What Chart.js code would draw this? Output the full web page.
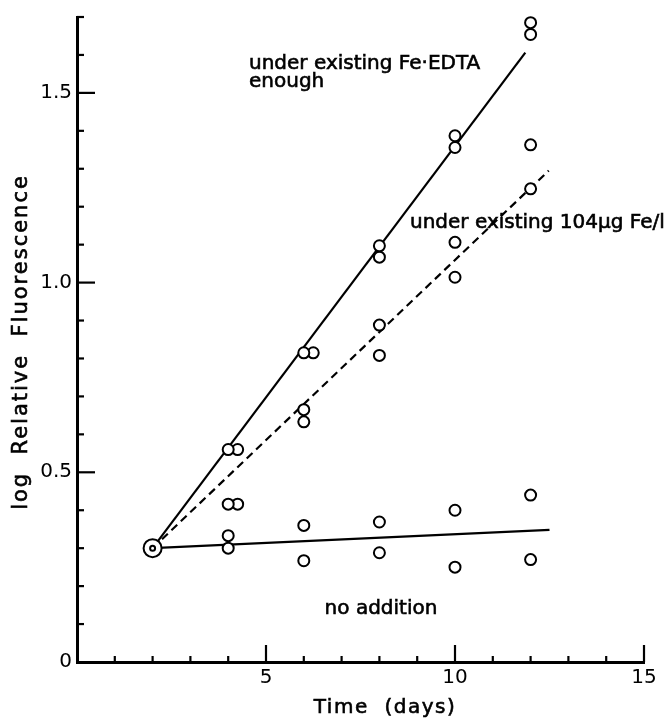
<!DOCTYPE html>
<html>
<head>
<meta charset="utf-8">
<script src="https://cdn.jsdelivr.net/npm/chart.js@4.4.1/dist/chart.umd.min.js"></script>
<style>
  html, body { margin: 0; padding: 0; background: #fff; }
</style>
</head>
<body>
<canvas id="fluorChart" width="666" height="720"></canvas>
<script>
// values (x = time in days, y = log relative fluorescence)
const startDay = [2];
const startLogF = [0.30];

const edtaDays = [4.25, 4, 6.25, 6, 8, 8, 10, 10, 12, 12];
const edtaLogF = [0.56, 0.56, 0.815, 0.815, 1.067, 1.097, 1.356, 1.387, 1.654, 1.685];

const iron104Days = [4.25, 4, 6, 6, 8, 8, 10, 10, 12, 12];
const iron104LogF = [0.416, 0.416, 0.633, 0.665, 0.808, 0.888, 1.014, 1.106, 1.247, 1.363];

const noAddDays = [4, 4, 6, 6, 8, 8, 10, 10, 12, 12];
const noAddLogF = [0.333, 0.30, 0.36, 0.267, 0.369, 0.288, 0.40, 0.25, 0.44, 0.27];

// fitted lines (end points)
const edtaFitDays = [2, 11.86];
const edtaFitLogF = [0.30, 1.606];
const iron104FitDays = [2, 12.48];
const iron104FitLogF = [0.30, 1.295];
const noAddFitDays = [2, 12.5];
const noAddFitLogF = [0.30, 0.348];

const xTickLabels = [5, 10, 15];
const yTickLabels = [0, 0.5, 1.0, 1.5];

const ink = '#000';
const font = 'DejaVu Sans';

const toPoints = (xs, ys) => xs.map((x, i) => ({ x: x, y: ys[i] }));

const pointSet = (xs, ys) => ({
  data: toPoints(xs, ys),
  pointRadius: 5.5,
  pointBorderWidth: 2,
  pointBorderColor: ink,
  pointBackgroundColor: '#fff',
  showLine: false,
  clip: false,
  order: 1
});

const lineSet = (xs, ys, dash) => ({
  data: toPoints(xs, ys),
  showLine: true,
  pointRadius: 0,
  borderColor: ink,
  borderWidth: 2.2,
  borderDash: dash,
  clip: false,
  order: 3
});

// heavier lettering, like the inked original
function inkText(ctx, text, x, y) {
  ctx.fillText(text, x, y);
  ctx.strokeText(text, x, y);
}

// inward ticks, axis titles and curve labels
const decor = {
  id: 'decor',
  afterDraw(chart) {
    const { ctx, chartArea: a, scales: { x, y } } = chart;
    ctx.save();
    ctx.strokeStyle = ink;
    ctx.lineWidth = 2.2;
    for (let i = 1; i <= 17; i++) {
      const py = y.getPixelForValue(i / 10);
      const len = i % 5 === 0 ? 18 : 7;
      ctx.beginPath();
      ctx.moveTo(a.left, py);
      ctx.lineTo(a.left + len, py);
      ctx.stroke();
    }
    for (let d = 1; d <= 15; d++) {
      const px = x.getPixelForValue(d);
      const len = d % 5 === 0 ? 17 : 6;
      ctx.beginPath();
      ctx.moveTo(px, a.bottom);
      ctx.lineTo(px, a.bottom - len);
      ctx.stroke();
    }

    ctx.fillStyle = ink;
    ctx.lineWidth = 0.6;
    ctx.font = '20px "' + font + '"';
    ctx.textAlign = 'left';
    ctx.textBaseline = 'alphabetic';
    inkText(ctx, 'under existing Fe\u00b7EDTA', 249, 69);
    inkText(ctx, 'enough', 249, 87);
    inkText(ctx, 'under existing 104\u03bcg Fe/l', 410, 228);
    ctx.textAlign = 'center';
    inkText(ctx, 'no addition', 381, 614);

    ctx.textBaseline = 'middle';
    ctx.letterSpacing = '1.5px';
    inkText(ctx, 'Time  (days)', 385, 708);
    ctx.translate(22, 342);
    ctx.rotate(-Math.PI / 2);
    ctx.letterSpacing = '2px';
    ctx.font = '21px "' + font + '"';
    inkText(ctx, 'log  Relative  Fluorescence', 0, 0);
    ctx.restore();
  }
};

new Chart(document.getElementById('fluorChart'), {
  type: 'scatter',
  data: {
    datasets: [
      Object.assign(pointSet(startDay, startLogF), { pointRadius: 2.5, order: 0 }),
      Object.assign(pointSet(startDay, startLogF), { pointRadius: 9, order: 0.5 }),
      pointSet(edtaDays, edtaLogF),
      pointSet(iron104Days, iron104LogF),
      pointSet(noAddDays, noAddLogF),
      lineSet(edtaFitDays, edtaFitLogF, []),
      lineSet(iron104FitDays, iron104FitLogF, [8, 5]),
      lineSet(noAddFitDays, noAddFitLogF, [])
    ]
  },
  options: {
    responsive: false,
    animation: false,
    layout: { padding: { top: 15, right: 22, left: 0, bottom: 0 } },
    plugins: { legend: { display: false }, tooltip: { enabled: false } },
    scales: {
      x: {
        type: 'linear',
        min: 0,
        max: 15,
        afterFit: s => { s.height = 58; },
        grid: { display: false, drawTicks: false },
        border: { display: true, color: ink, width: 3 },
        ticks: {
          stepSize: 1,
          autoSkip: false,
          maxRotation: 0,
          padding: 4,
          color: ink,
          font: { family: font, size: 20 },
          callback: v => xTickLabels.includes(v) ? String(v) : ''
        }
      },
      y: {
        min: 0,
        max: 1.7,
        afterFit: s => { s.width = 77; },
        grid: { display: false, drawTicks: false },
        border: { display: true, color: ink, width: 3 },
        ticks: {
          stepSize: 0.1,
          autoSkip: false,
          padding: 5,
          color: ink,
          font: { family: font, size: 20 },
          callback: v => {
            const r = Math.round(v * 10) / 10;
            if (!yTickLabels.includes(r)) return '';
            return r === 0 ? '0' : r.toFixed(1);
          }
        }
      }
    }
  },
  plugins: [decor]
});
</script>
</body>
</html>
